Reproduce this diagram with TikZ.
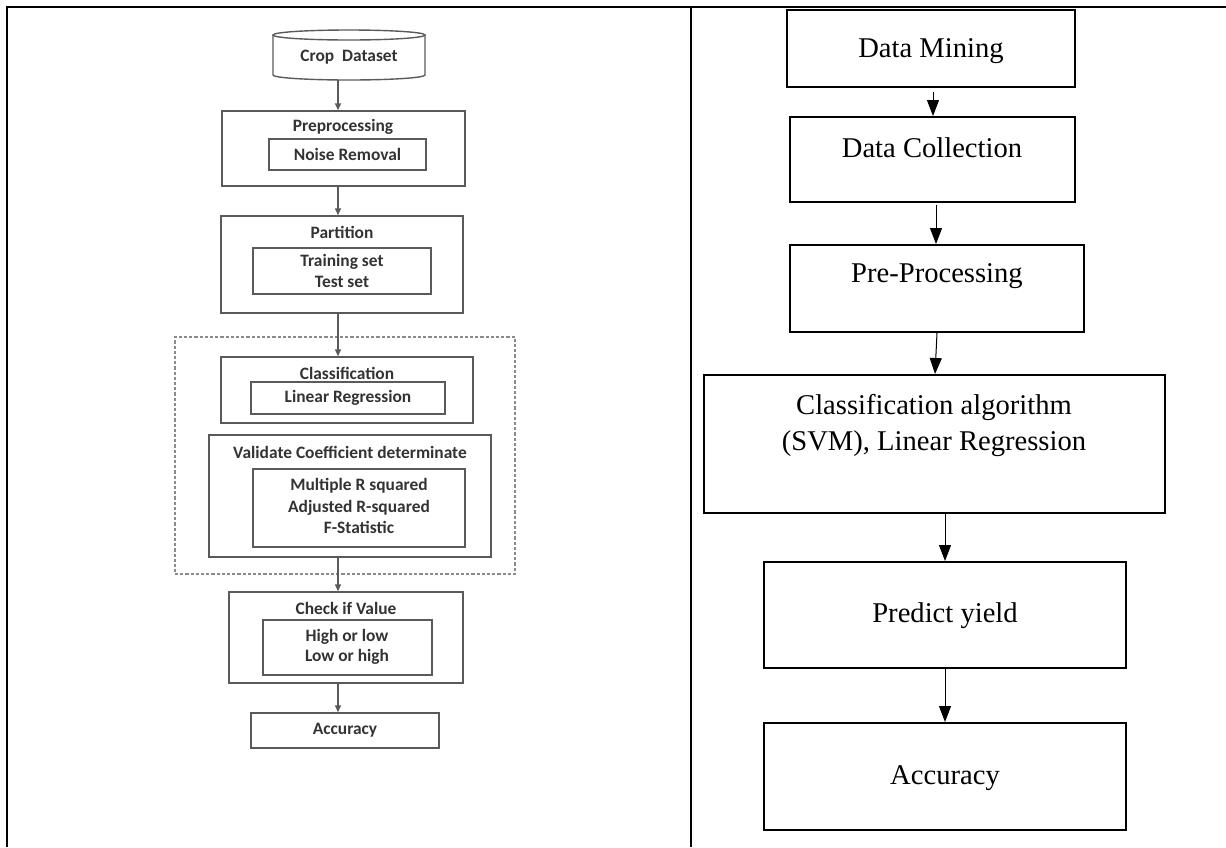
\documentclass[tikz,border=0pt]{standalone}
\usepackage{fontspec}
\setmainfont{Liberation Serif}
\newfontfamily\calfont{Carlito}
\usetikzlibrary{arrows.meta,fit}
\definecolor{lgray}{HTML}{5A5A5A}
\definecolor{ltext}{HTML}{333333}
\definecolor{ldash}{HTML}{8A8A8A}
\begin{document}
\begin{tikzpicture}[x=0.5pt,y=-0.5pt,
  tbl/.style={line width=1.1pt,black},
  lbox/.style={draw=lgray,line width=0.7pt,inner sep=0pt},
  ltxt/.style={font=\calfont\bfseries\fontsize{8.7}{10.2}\selectfont,text=ltext,align=center,inner sep=0pt},
  larr/.style={draw=lgray,line width=0.7pt,-{Triangle[width=3pt,length=3.5pt]}},
  dashbox/.style={draw=ldash,line width=0.7pt,dash pattern=on 1.6pt off 1pt,inner sep=0pt},
  rbox/.style={draw=black,line width=1pt,inner sep=0pt},
  rtxt/.style={font=\fontsize{14.3}{18}\selectfont,align=center,inner sep=0pt},
  rarr/.style={draw=black,line width=0.5pt,-{Triangle[width=6pt,length=8pt]}}
]
\useasboundingbox (0,0) rectangle (1226,847);
% table lines
\draw[tbl] (6,7) -- (1226,7);
\draw[tbl] (7,6) -- (7,847);
\draw[tbl] (691,6) -- (691,847);

% ---------- left flowchart ----------
\coordinate (ax) at (338,0);
% cylinder
\node[inner sep=0pt,fit={(273,30) (425,80)}] (cyl) {};
\draw[lgray,line width=0.7pt] (349,35) ellipse [x radius=76,y radius=5];
\draw[lgray,line width=0.7pt] (273,35) -- (273,75) arc[start angle=180,end angle=0,x radius=76,y radius=5] -- (425,35);
\node[ltxt] (cropT) at (349,57) {Crop\ \ Dataset};

\node[lbox,fit={(222,111) (465,186)}] (pre) {};
\node[ltxt] (preT) at (343,127) {Preprocessing};
\node[lbox,fit={(269,139) (426,170)}] (preI) {};
\node[ltxt] (preIT) at (preI.center) {Noise Removal};

\node[lbox,fit={(221,216) (463,313)}] (part) {};
\node[ltxt] (partT) at (342,232) {Partition};
\node[lbox,fit={(253,248) (431,294)}] (partI) {};
\node[ltxt] (partIT) at (342,271) {Training set\\Test set};

\node[dashbox,fit={(175,337) (515,574)}] (grp) {};

\node[lbox,fit={(221,357) (473,423)}] (cls) {};
\node[ltxt] (clsT) at (347,373) {Classification};
\node[lbox,fit={(251,382) (445,414)}] (clsI) {};
\node[ltxt] (clsIT) at (clsI.center) {Linear Regression};

\node[lbox,fit={(209,435) (491,557)}] (val) {};
\node[ltxt] (valT) at (350,452) {Validate Coefficient determinate};
\node[lbox,fit={(253,469) (465,547)}] (valI) {};
\node[ltxt,font=\calfont\bfseries\fontsize{8.7}{10.6}\selectfont] (valIT) at (359,506) {Multiple R squared\\Adjusted R-squared\\F-Statistic};

\node[lbox,fit={(229,592) (463,683)}] (chk) {};
\node[ltxt] (chkT) at (346,608) {Check if Value};
\node[lbox,fit={(263,620) (432,675)}] (chkI) {};
\node[ltxt] (chkIT) at (347,647) {High or low\\Low or high};

\node[lbox,fit={(251,713) (439,748)}] (acc) {};
\node[ltxt] (accT) at (acc.center) {Accuracy};

\draw[larr] (cyl.south -| ax) -- (pre.north -| ax);
\draw[larr] (pre.south -| ax) -- (part.north -| ax);
\draw[larr] (part.south -| ax) -- (cls.north -| ax);
\draw[larr] (val.south -| ax) -- (chk.north -| ax);
\draw[larr] (chk.south -| ax) -- (acc.north -| ax);

% ---------- right flowchart ----------
\node[rbox,fit={(787,10) (1075,87)}] (dm) {};
\node[rtxt] (dmT) at (931,51) {Data Mining};
\node[rbox,fit={(790,117) (1075,202)}] (dc) {};
\node[rtxt] (dcT) at (932,148) {Data Collection};
\node[rbox,fit={(790,245) (1084,332)}] (pp) {};
\node[rtxt] (ppT) at (937,276) {Pre-Processing};
\node[rbox,fit={(704,375) (1165,513)}] (ca) {};
\node[rtxt] (caT) at (934,426) {Classification algorithm\\(SVM), Linear Regression};
\node[rbox,fit={(764,562) (1126,668)}] (py) {};
\node[rtxt] (pyT) at (945,616) {Predict yield};
\node[rbox,fit={(764,723) (1126,830)}] (ac) {};
\node[rtxt] (acT) at (945,778) {Accuracy};

\coordinate (d1) at (933,92);
\draw[rarr] (d1) -- (dc.north -| d1);
\coordinate (d2) at (936,205);
\draw[rarr] (d2) -- (pp.north -| d2);
\draw[rarr] (pp.south -| 937,0) -- (ca.north -| 935,0);
\draw[rarr] (ca.south -| 945,0) -- (py.north -| 945,0);
\draw[rarr] (py.south -| 945,0) -- (ac.north -| 945,0);
\end{tikzpicture}
\end{document}
